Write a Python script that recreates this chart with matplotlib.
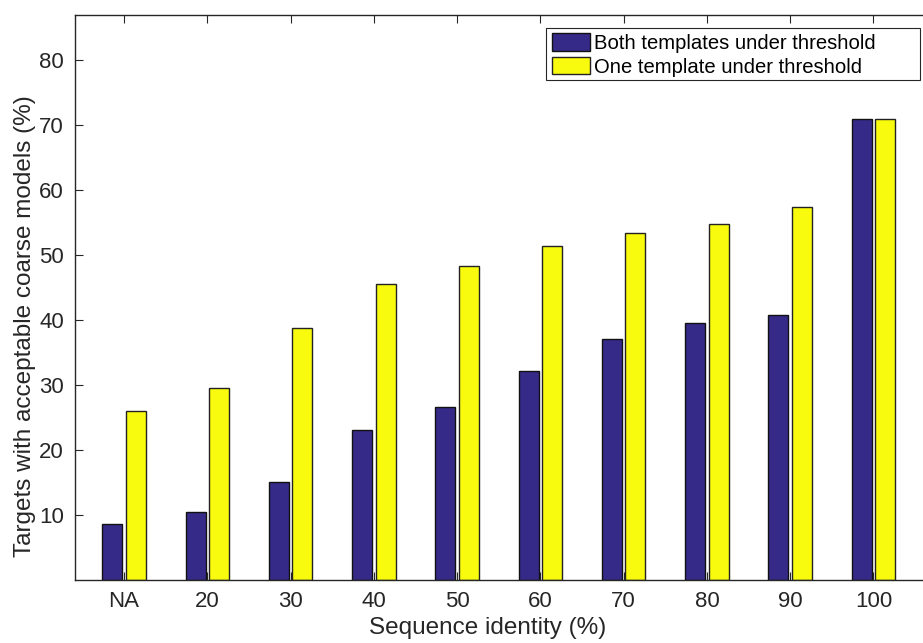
import matplotlib
matplotlib.use("Agg")
import matplotlib.pyplot as plt
from matplotlib.patches import Rectangle
import numpy as np

plt.rcParams['font.family'] = ['Liberation Sans', 'DejaVu Sans']

# sequence identity bins
identity_labels = ["NA", "20", "30", "40", "50", "60", "70", "80", "90", "100"]

# % of targets with acceptable coarse models
both_under = [8.6, 10.4, 15.1, 23.0, 26.6, 32.2, 37.0, 39.5, 40.8, 70.9]
one_under = [26.0, 29.5, 38.7, 45.6, 48.3, 51.3, 53.4, 54.8, 57.4, 70.9]

blue = "#352a87"
yellow = "#f9fb0e"
axis_col = "#262626"

fig = plt.figure(figsize=(9.23, 6.43), dpi=100)
W, H = 923, 643
# right edge runs just past the canvas so the right box line is cut off
ax = fig.add_axes([75 / W, (H - 580) / H, (925 - 75) / W, (580 - 15) / H])

x = np.arange(1, len(identity_labels) + 1)
bw = 0.24
off = 0.14
ax.bar(x - off, both_under, bw, color=blue, edgecolor="#111111", linewidth=1.0,
       label="Both templates under threshold")
ax.bar(x + off, one_under, bw, color=yellow, edgecolor="#222222", linewidth=1.0,
       label="One template under threshold")

ax.set_xlim(0.41, 10.62)
ax.set_ylim(0, 86.9)
ax.set_xticks(x)
ax.set_xticklabels(identity_labels)
ax.set_yticks(np.arange(10, 90, 10))

ax.tick_params(axis="both", direction="in", length=6, width=0.8, color=axis_col,
               labelsize=16, labelcolor=axis_col, top=True, right=False)
ax.tick_params(axis="x", pad=8)
ax.tick_params(axis="y", pad=8)
for s in ["left", "bottom", "top", "right"]:
    ax.spines[s].set_color(axis_col)
    ax.spines[s].set_linewidth(1.0)

ax.set_xlabel("Sequence identity (%)", fontsize=17.5, color=axis_col)
ax.set_ylabel("Targets with acceptable coarse models (%)", fontsize=17.5,
              color=axis_col)
ax.xaxis.set_label_coords(0.486, -0.066)
ax.yaxis.set_label_coords(-0.046, 0.45)

# legend entries without frame, box drawn separately (wider, like MATLAB)
leg = ax.legend(loc="upper left", bbox_to_anchor=(550 / W, 1 - 31 / H),
                bbox_transform=fig.transFigure, borderaxespad=0,
                frameon=False, fontsize=14.6,
                handlelength=1.87, handleheight=0.95, handletextpad=0.2,
                borderpad=0.1, labelspacing=0.2)
leg.set_zorder(6)
box = Rectangle((546 / W, 1 - 80 / H), (920 - 546) / W, 52 / H,
                transform=fig.transFigure, facecolor="white",
                edgecolor=axis_col, linewidth=0.8, zorder=5, clip_on=False)
ax.add_patch(box)

fig.savefig("out.png", dpi=100)
